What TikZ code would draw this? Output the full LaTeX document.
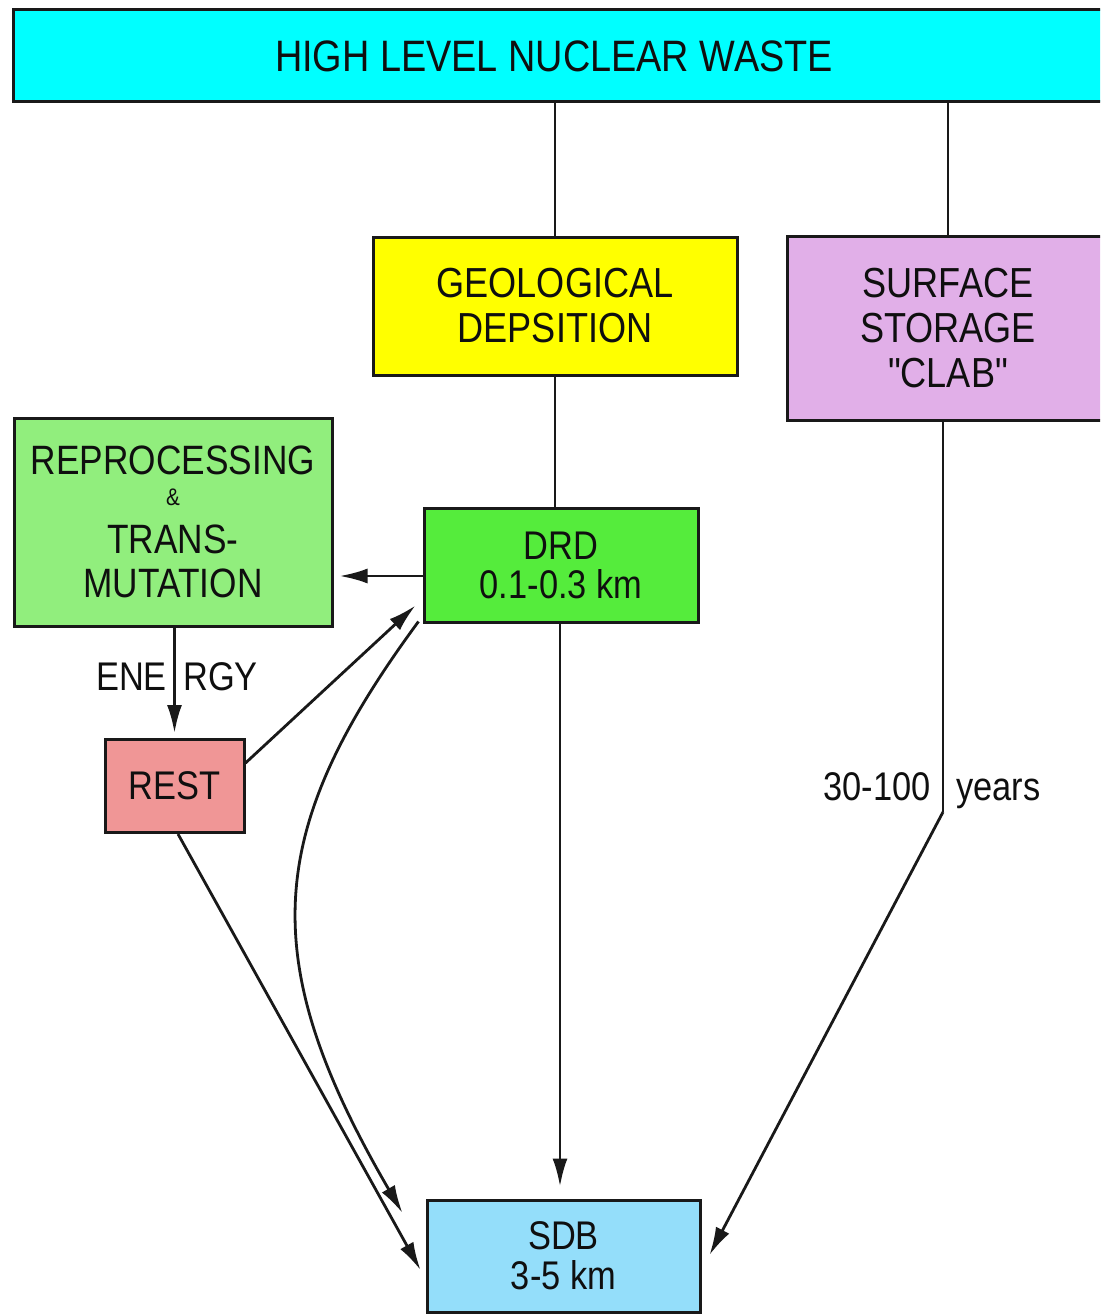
\documentclass[tikz,border=0pt]{standalone}
\usepackage{fontspec}
\setmainfont{Liberation Sans}[FakeStretch=0.86]
\newfontfamily\plainq{Liberation Sans}[FakeStretch=0.86]
\usetikzlibrary{arrows.meta,calc}
\definecolor{cTitle}{RGB}{0,255,255}
\definecolor{cGeo}{RGB}{255,255,0}
\definecolor{cSurf}{RGB}{225,175,232}
\definecolor{cRep}{RGB}{145,238,125}
\definecolor{cDrd}{RGB}{85,236,60}
\definecolor{cRest}{RGB}{240,150,150}
\definecolor{cSdb}{RGB}{148,222,250}
\definecolor{lineC}{RGB}{25,25,25}
\definecolor{textC}{RGB}{15,15,15}
\begin{document}
\begin{tikzpicture}[x=1pt,y=-1pt,
  box/.style={draw=lineC, line width=3pt, inner sep=0pt, align=center, text=textC},
  ln/.style={draw=lineC, line width=2.8pt},
  arr/.style={draw=lineC, line width=2.8pt, -{Latex[length=28pt,width=15pt]}},
  bigf/.style={font=\fontsize{42}{45}\selectfont},
  midf/.style={font=\fontsize{40}{40}\selectfont},
  lbl/.style={inner sep=0pt, text=textC, font=\fontsize{40}{40}\selectfont}
]
\clip (0,0) rectangle (1100,1314);
\fill[white] (0,0) rectangle (1100,1314);

% boxes
\node[box, fill=cTitle, anchor=north west, minimum width=1120pt, minimum height=92pt] (hlw) at (12,8) {};
\node[inner sep=0pt, text=textC, font=\fontsize{44}{44}\selectfont] (hlwt) at (554,56) {HIGH LEVEL NUCLEAR WASTE};

\node[box, fill=cGeo, bigf, minimum width=364pt, minimum height=138pt] (geo) at (555,306) {GEOLOGICAL\\DEPSITION};

\node[box, fill=cSurf, bigf, minimum width=322pt, minimum height=184pt] (surf) at (948,328) {SURFACE\\STORAGE\\{\plainq "CLAB"}};

\node[box, fill=cRep, font=\fontsize{41}{44}\selectfont, minimum width=318pt, minimum height=208pt] (rep) at (173,522)
  {REPROCESSING\\[-13pt]{\fontsize{24}{24}\selectfont\&}\\[4pt]TRANS-\\MUTATION};

\node[box, fill=cDrd, font=\fontsize{40}{39}\selectfont, minimum width=274pt, minimum height=114pt] (drd) at (561,565) {DRD\\0.1-0.3 km};

\node[box, fill=cRest, midf, minimum width=139pt, minimum height=93pt] (rest) at (174.5,786) {REST};

\node[box, fill=cSdb, font=\fontsize{40}{40}\selectfont, minimum width=273pt, minimum height=112pt] (sdb) at (563.5,1256) {SDB\\3-5 km};

% labels
\node[lbl, anchor=base east] (ene) at (167,690) {ENE};
\node[lbl, anchor=base west] (rgy) at (183,690) {RGY};
\node[lbl, anchor=base east] (yrs1) at (931,800) {30-100};
\node[lbl, anchor=base west] (yrs2) at (956,800) {years};

\coordinate (bend) at (943,812);

% connectors
\draw[ln] (hlw.south -| geo.north) -- (geo.north);
\draw[ln] (hlw.south -| surf.north) -- (surf.north);
\draw[ln] (geo.south) -- (drd.north -| geo.south);
\draw[arr] ([yshift=-11pt]drd.west) coordinate (d1) -- ([xshift=6pt]d1 -| rep.east);
\draw[arr] (rest.north |- rep.south) -- ([yshift=5pt]rest.north);
\draw[arr] ([yshift=23pt]rest.east) -- ([xshift=-7pt,yshift=18pt]drd.south west);
\draw[arr] ([xshift=-4pt,yshift=2pt]drd.south west) .. controls (265,830) and (254,958) .. ([xshift=-23pt,yshift=43pt]sdb.west);
\draw[arr] ([xshift=3.5pt]rest.south) -- ([xshift=-5pt,yshift=-14pt]sdb.west);
\draw[arr] (drd.south -| 560,0) -- ([yshift=12pt]sdb.north -| 560,0);
\draw[ln] (surf.south -| bend) -- (bend);
\draw[arr] (bend) -- ([xshift=8pt,yshift=1pt]sdb.east);
\end{tikzpicture}
\end{document}
